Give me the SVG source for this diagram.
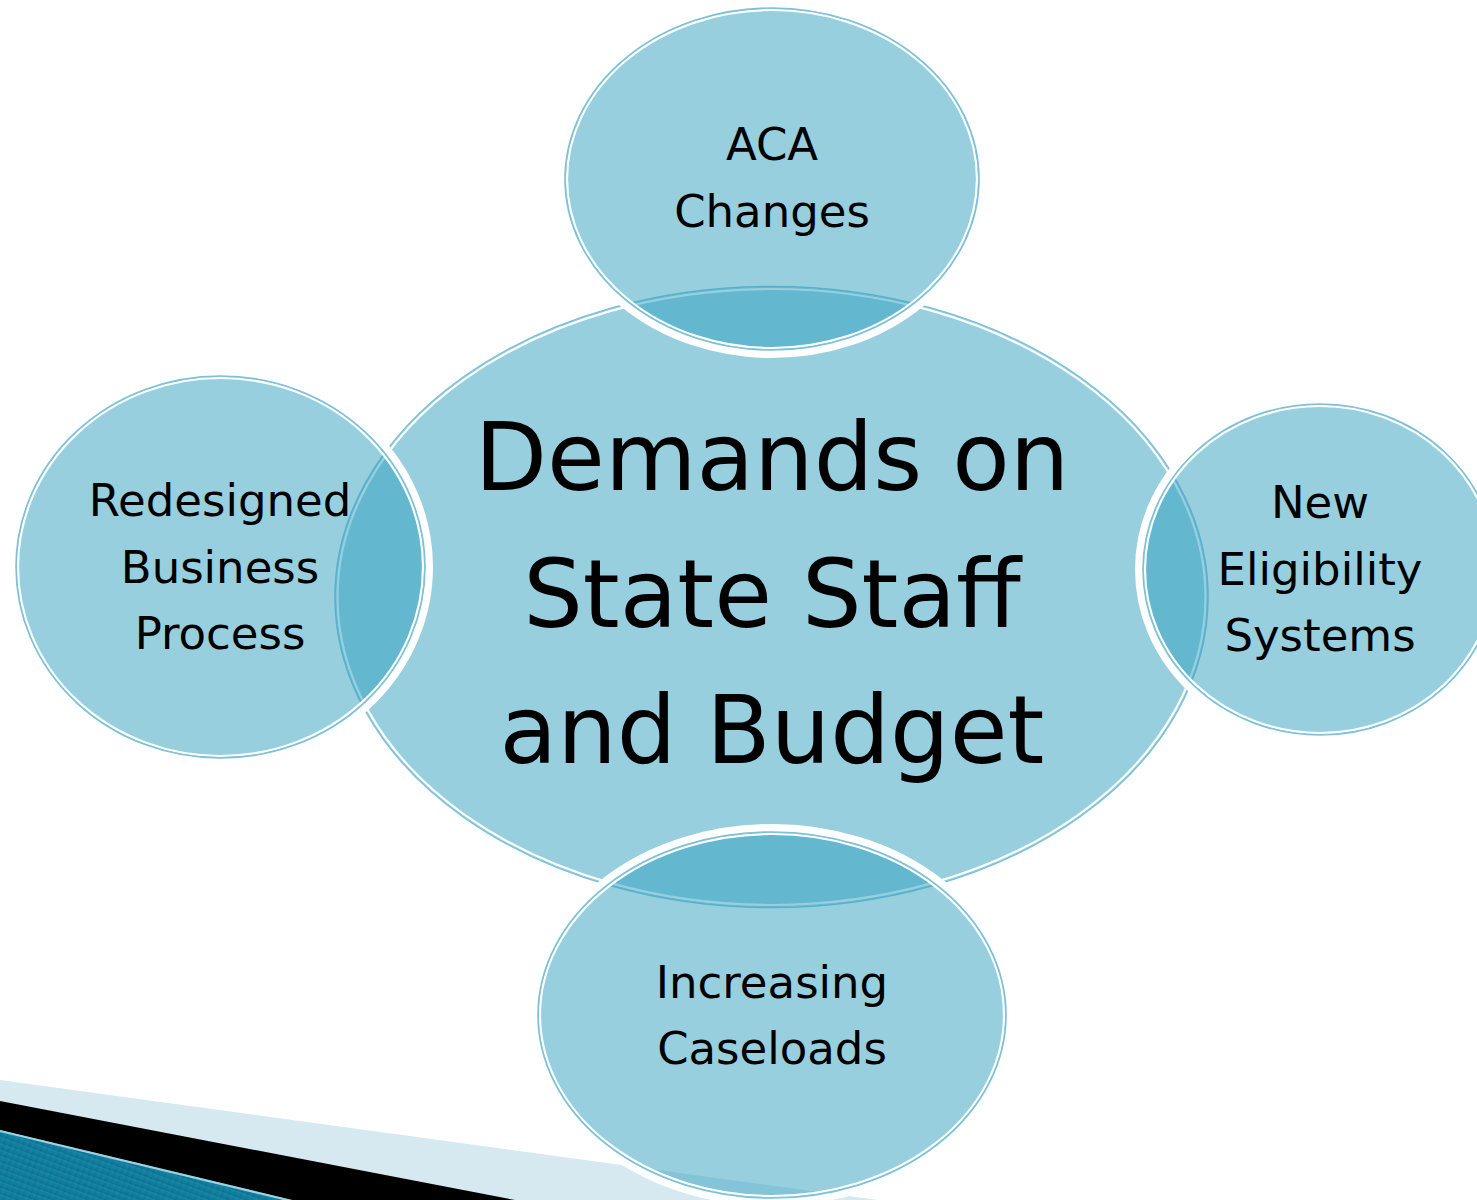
<svg xmlns="http://www.w3.org/2000/svg" width="1477" height="1200" viewBox="0 0 1477 1200">
<style>
.fill{fill:#2f9fbf;fill-opacity:0.5}
.cfill{fill:#97cfdf}
.wline{fill:none;stroke:#ffffff;stroke-width:2.2}
.bline{fill:none;stroke:#7cc2d6;stroke-width:1.6}
.halo{fill:none;stroke:#ffffff;stroke-width:10}
.t{font-family:"DejaVu Sans","Liberation Sans",sans-serif;fill:#000;text-anchor:middle}
.big{font-size:94px}
.sm{font-size:45px}
</style>
<defs>
<linearGradient id="bg1" x1="0" y1="0" x2="1" y2="1">
<stop offset="0" stop-color="#1c97b8"/>
<stop offset="1" stop-color="#0a6a8a"/>
</linearGradient>
<pattern id="stripes" width="6" height="6" patternUnits="userSpaceOnUse" patternTransform="rotate(20)">
<rect width="6" height="6" fill="url(#bg1)"/>
<rect width="2" height="6" fill="#000" fill-opacity="0.08"/>
</pattern>
</defs>
<rect width="1477" height="1200" fill="#ffffff"/>
<g id="decor">
<polygon points="0,1080 900,1203 0,1203" fill="#d6e9f1"/>
<polygon points="0,1101 515,1200 0,1200" fill="#000000"/>
<polygon points="0,1130 292,1200 0,1200" fill="url(#stripes)"/>
<line x1="0" y1="1131" x2="292" y2="1201" stroke="#9fd3e2" stroke-width="2"/>
</g>
<g id="center">
<ellipse cx="771.5" cy="597" rx="436" ry="310" class="cfill"/>
<ellipse cx="771.5" cy="597" rx="434" ry="308" class="wline"/>
<ellipse cx="771.5" cy="597" rx="436.5" ry="310.5" class="bline"/>
<text class="t big" x="772" y="490">Demands on</text>
<text class="t big" x="772" y="627">State Staff</text>
<text class="t big" x="772" y="763">and Budget</text>
</g>
<g id="aca">
<ellipse cx="772" cy="179" rx="210" ry="174" class="halo"/>
<ellipse cx="772" cy="179" rx="207" ry="171" class="fill"/>
<ellipse cx="772" cy="179" rx="205" ry="169" class="wline"/>
<ellipse cx="772" cy="179" rx="207" ry="171" class="bline"/>
<text class="t sm" x="772" y="160">ACA</text>
<text class="t sm" x="772" y="227">Changes</text>
</g>
<g id="redesigned">
<ellipse cx="220.5" cy="567" rx="207.5" ry="194" class="halo"/>
<ellipse cx="220.5" cy="567" rx="204.5" ry="191" class="fill"/>
<ellipse cx="220.5" cy="567" rx="202.5" ry="189" class="wline"/>
<ellipse cx="220.5" cy="567" rx="204.5" ry="191" class="bline"/>
<text class="t sm" x="220" y="516">Redesigned</text>
<text class="t sm" x="220" y="583">Business</text>
<text class="t sm" x="220" y="649">Process</text>
</g>
<g id="eligibility">
<ellipse cx="1320" cy="569.5" rx="180" ry="168.5" class="halo"/>
<ellipse cx="1320" cy="569.5" rx="177" ry="165.5" class="fill"/>
<ellipse cx="1320" cy="569.5" rx="175" ry="163.5" class="wline"/>
<ellipse cx="1320" cy="569.5" rx="177" ry="165.5" class="bline"/>
<text class="t sm" x="1320" y="518">New</text>
<text class="t sm" x="1320" y="585">Eligibility</text>
<text class="t sm" x="1320" y="651">Systems</text>
</g>
<g id="caseloads">
<ellipse cx="772" cy="1015" rx="237" ry="186" class="halo"/>
<ellipse cx="772" cy="1015" rx="234" ry="183" class="fill"/>
<ellipse cx="772" cy="1015" rx="232" ry="181" class="wline"/>
<ellipse cx="772" cy="1015" rx="234" ry="183" class="bline"/>
<text class="t sm" x="772" y="998">Increasing</text>
<text class="t sm" x="772" y="1064">Caseloads</text>
</g>
<g id="connectors"></g>
</svg>
